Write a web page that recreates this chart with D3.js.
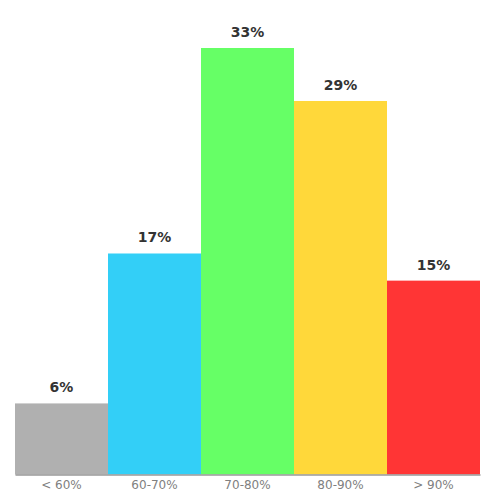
<!DOCTYPE html>
<html><head><meta charset="utf-8">
<script src="https://cdn.jsdelivr.net/npm/d3@7"></script>
<style>body{margin:0;background:#fff}svg{display:block}</style>
</head><body>
<script>
const categories = ["< 60%", "60-70%", "70-80%", "80-90%", "> 90%"];
const values = [5.5, 17.1, 33.0, 28.9, 15.0];
const labels = ["6%", "17%", "33%", "29%", "15%"];
const colors = ["#b0b0b0", "#33cff7", "#66ff66", "#ffd83a", "#ff3535"];

const W = 500, H = 500;
const svg = d3.select("body").append("svg").attr("width", W).attr("height", H);
const x = d3.scaleBand().domain(categories).range([15, 480]).padding(0);
const y = d3.scaleLinear().domain([0, 33]).range([474.5, 48]);

svg.selectAll("rect.bar").data(categories).join("rect")
  .attr("class", "bar")
  .attr("x", d => x(d))
  .attr("width", x.bandwidth())
  .attr("y", (d, i) => y(values[i]))
  .attr("height", (d, i) => y(0) - y(values[i]))
  .attr("fill", (d, i) => colors[i]);

svg.selectAll("text.val").data(categories).join("text")
  .attr("class", "val")
  .attr("x", d => x(d) + x.bandwidth() / 2)
  .attr("y", (d, i) => y(values[i]) - 11)
  .attr("text-anchor", "middle")
  .attr("font-family", "DejaVu Sans, sans-serif")
  .attr("font-size", 14)
  .attr("font-weight", "bold")
  .attr("fill", "#333")
  .text((d, i) => labels[i]);

const axis = d3.axisBottom(x).tickSize(0).tickPadding(6);
const g = svg.append("g").attr("transform", `translate(0,${y(0)})`).call(axis);
g.select(".domain").attr("stroke", "#999").attr("stroke-width", 1.5);
g.selectAll("text").attr("font-family", "DejaVu Sans, sans-serif").attr("font-size", 12).attr("fill", "#808080");
</script>
</body></html>
